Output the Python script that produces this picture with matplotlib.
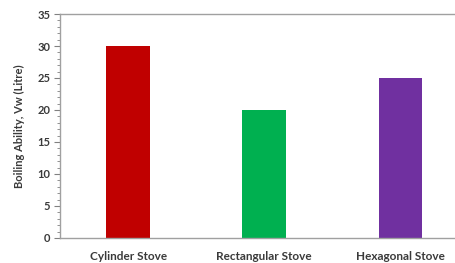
import matplotlib
matplotlib.use('Agg')
import matplotlib.pyplot as plt
from matplotlib.ticker import MultipleLocator

stoves = ['Cylinder Stove', 'Rectangular Stove', 'Hexagonal Stove']
boiling = [30, 20, 25]
colors = ['#C00000', '#00B050', '#7030A0']

plt.rcParams['font.family'] = ['Lato', 'DejaVu Sans']

fig = plt.figure(figsize=(4.56, 2.63), dpi=100)
ax = fig.add_axes([60/456, 25/263, 408.5/456, 224/263])

ax.bar(range(len(stoves)), boiling, width=0.32, color=colors)

ax.set_xlim(-0.5, 2.5)
ax.set_ylim(0, 35)
ax.yaxis.set_major_locator(MultipleLocator(5))
ax.yaxis.set_minor_locator(MultipleLocator(1))
ax.set_xticks(range(len(stoves)))
ax.set_xticklabels(stoves, fontsize=8.5, fontweight='bold', color='#3a3a3a')
for lbl in ax.get_yticklabels():
    lbl.set_fontsize(8)
    lbl.set_fontweight('bold')
    lbl.set_color('#3a3a3a')

ax.tick_params(axis='x', length=0, pad=9)
ax.tick_params(axis='y', which='major', length=4, width=0.8, color='#808080', pad=3)
ax.tick_params(axis='y', which='minor', length=2, width=0.6, color='#808080')

for side in ['left', 'bottom', 'top']:
    ax.spines[side].set_color('#a0a0a0')
    ax.spines[side].set_linewidth(1.0)
ax.spines['right'].set_visible(False)

ax.set_ylabel('Boiling Ability, Vw (Litre)', fontsize=8, fontweight='bold',
              color='#3a3a3a', labelpad=9)

fig.savefig('out.png', dpi=100)
